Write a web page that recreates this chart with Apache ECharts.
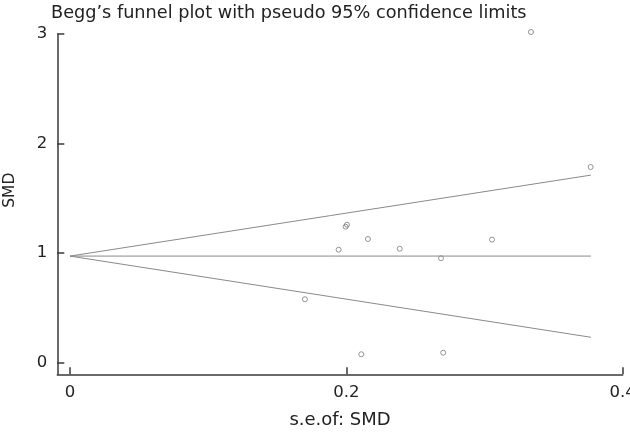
<!DOCTYPE html>
<html>
<head>
<meta charset="utf-8">
<script src="https://cdn.jsdelivr.net/npm/echarts@6/dist/echarts.min.js"></script>
<style>html,body{margin:0;padding:0;background:#fff;}#c{width:630px;height:432px;}</style>
</head>
<body>
<div id="c"></div>
<script>
// Study points: standard error of SMD and SMD
const seValues  = [0.2004, 0.1995, 0.2156, 0.1944, 0.2386, 0.2685, 0.3054, 0.1700, 0.2108, 0.2701, 0.3336, 0.3768];
const smdValues = [1.259, 1.241, 1.129, 1.031, 1.040, 0.953, 1.123, 0.579, 0.077, 0.091, 3.018, 1.786];
// Funnel lines (endpoints)
const pooledLine = [[0, 0.973], [0.377, 0.973]];
const upperLimit = [[0, 0.973], [0.377, 1.712]];
const lowerLimit = [[0, 0.973], [0.377, 0.232]];
// Tick labels
const xTicks = [0, 0.2, 0.4];
const yTicks = [0, 1, 2, 3];

const titleText = 'Begg\u2019s funnel plot with pseudo 95% confidence limits';
const xName = 's.e.of: SMD';
const yName = 'SMD';

const points = seValues.map((s, i) => [s, smdValues[i]]);
const font = '"DejaVu Sans", sans-serif';
const axisColor = '#3a3a3a';
const lineColor = '#8a8a8a';
const textColor = '#222222';

const chart = echarts.init(document.getElementById('c'));
chart.setOption({
  animation: false,
  backgroundColor: '#ffffff',
  title: {
    text: titleText,
    left: 51, top: 4, padding: 0,
    textStyle: { fontFamily: font, fontSize: 17.7, fontWeight: 'normal', color: textColor }
  },
  grid: { left: 57.3, right: 7.3, top: 34, bottom: 57.7, containLabel: false, outerBoundsMode: 'none' },
  xAxis: {
    type: 'value', min: -0.0092, max: 0.4,
    name: xName, nameLocation: 'middle', nameGap: 37,
    nameTextStyle: { fontFamily: font, fontSize: 18, color: textColor },
    axisLine: { show: true, onZero: false, lineStyle: { color: axisColor, width: 1.5 } },
    axisTick: { show: true, inside: true, length: 7, customValues: xTicks, lineStyle: { color: axisColor, width: 1.5 } },
    axisLabel: { show: true, customValues: xTicks, margin: 10, fontFamily: font, fontSize: 16.5, color: textColor,
      formatter: v => String(v) },
    splitLine: { show: false }
  },
  yAxis: {
    type: 'value', min: -0.106, max: 3,
    name: yName, nameLocation: 'middle', nameGap: 39, nameRotate: 90,
    nameTextStyle: { fontFamily: font, fontSize: 15.5, color: textColor, padding: [0, 0, 0, 28] },
    axisLine: { show: true, onZero: false, lineStyle: { color: axisColor, width: 1.5 } },
    axisTick: { show: true, inside: true, length: 7, customValues: yTicks, lineStyle: { color: axisColor, width: 1.5 } },
    axisLabel: { show: true, customValues: yTicks, margin: 10, fontFamily: font, fontSize: 16.5, color: textColor },
    splitLine: { show: false }
  },
  series: [
    { type: 'line', data: upperLimit, symbol: 'none', lineStyle: { color: lineColor, width: 1 }, silent: true },
    { type: 'line', data: lowerLimit, symbol: 'none', lineStyle: { color: lineColor, width: 1 }, silent: true },
    { type: 'line', data: pooledLine, symbol: 'none', lineStyle: { color: lineColor, width: 1 }, silent: true },
    { type: 'scatter', data: points, symbol: 'circle', symbolSize: 5, clip: false,
      itemStyle: { color: 'rgba(0,0,0,0)', borderColor: '#7a7a7a', borderWidth: 1 } }
  ]
});
</script>
</body>
</html>
